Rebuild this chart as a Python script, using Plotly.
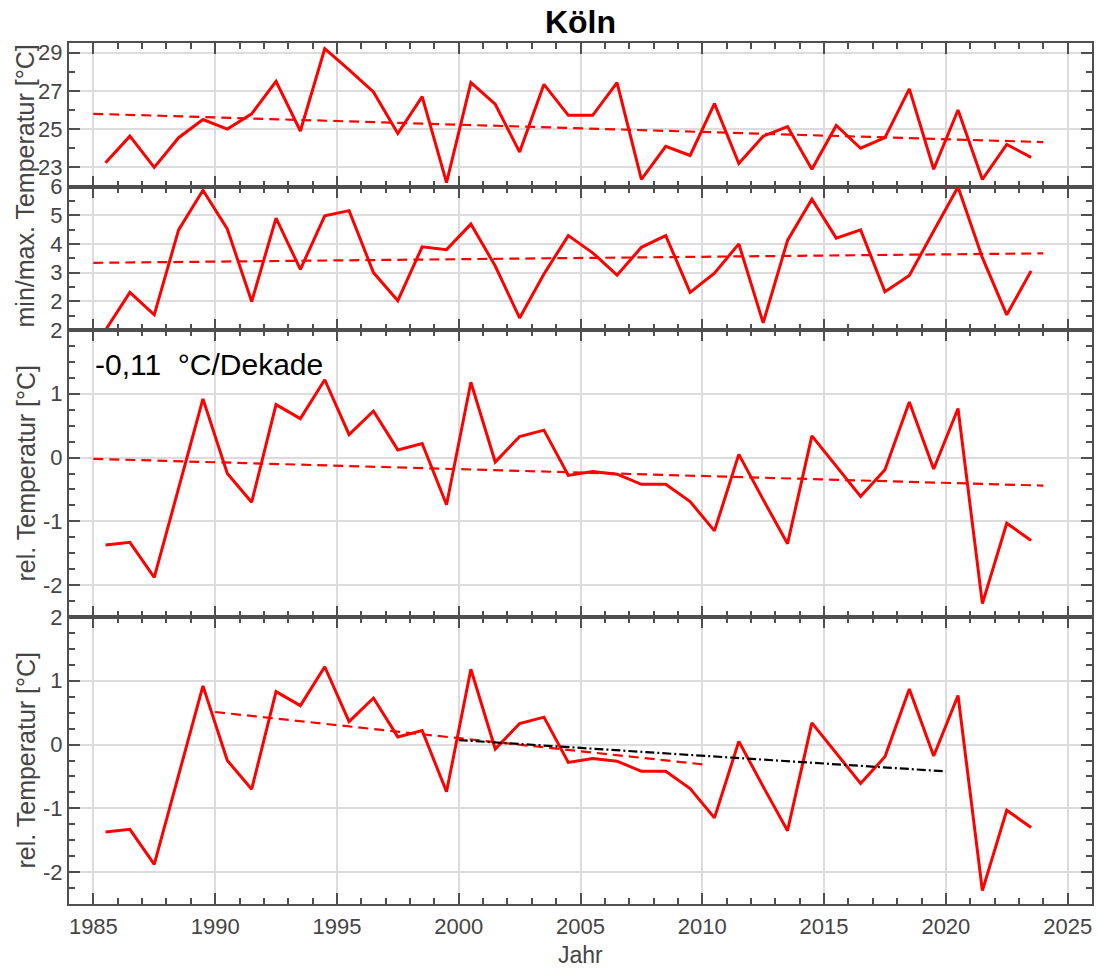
import plotly.graph_objects as go
from plotly.subplots import make_subplots

# Annual values (plotted at mid-year)
years = [1985, 1986, 1987, 1988, 1989, 1990, 1991, 1992, 1993, 1994,
         1995, 1996, 1997, 1998, 1999, 2000, 2001, 2002, 2003, 2004,
         2005, 2006, 2007, 2008, 2009, 2010, 2011, 2012, 2013, 2014,
         2015, 2016, 2017, 2018, 2019, 2020, 2021, 2022, 2023]

# maximum temperature [°C]
t_max = [23.24, 24.63, 23.00, 24.55, 25.50, 25.00, 25.80, 27.50, 24.90, 29.20,
         28.10, 26.94, 24.77, 26.70, 22.20, 27.43, 26.30, 23.80, 27.34, 25.72,
         25.72, 27.43, 22.37, 24.10, 23.62, 26.33, 23.20, 24.63, 25.13, 22.90,
         25.19, 24.00, 24.55, 27.10, 22.90, 26.00, 22.37, 24.20, 23.52]

# minimum temperature [°C]
t_min = [1.00, 2.31, 1.53, 4.49, 5.87, 4.52, 1.99, 4.90, 3.11, 4.98,
         5.16, 3.00, 2.02, 3.90, 3.80, 4.69, 3.23, 1.42, 2.95, 4.29,
         3.69, 2.91, 3.88, 4.29, 2.31, 2.98, 4.00, 1.25, 4.12, 5.56,
         4.20, 4.49, 2.33, 2.90, 4.45, 5.98, 3.52, 1.53, 3.06]

# relative temperature [°C]
t_rel = [-1.37, -1.33, -1.88, -0.48, 0.92, -0.25, -0.70, 0.83, 0.61, 1.22,
         0.36, 0.73, 0.12, 0.22, -0.74, 1.18, -0.07, 0.33, 0.43, -0.28,
         -0.22, -0.26, -0.42, -0.42, -0.69, -1.15, 0.05, -0.66, -1.35, 0.34,
         -0.14, -0.61, -0.19, 0.87, -0.18, 0.77, -2.29, -1.03, -1.30]

# linear trends (start/end)
trend_max_x, trend_max_y = [1985, 2024], [25.80, 24.32]
trend_min_x, trend_min_y = [1985, 2024], [3.34, 3.67]
trend_rel_x, trend_rel_y = [1985, 2024], [-0.02, -0.44]
trend_9010_x, trend_9010_y = [1990, 2010], [0.51, -0.31]
trend_0020_x, trend_0020_y = [2000, 2020], [0.07, -0.42]

trend_label = "-0,11&nbsp;&nbsp;°C/Dekade"

rel_ticks = [-2, -1, 0, 1, 2]
rel_ticktext = ["-2", "-1", "0", "1", "2"]

x_mid = [y + 0.5 for y in years]

RED = "#ff0000"
AX = "#4f4f4f"
GRID = "#dcdcdc"
TXT = "#454545"
FONT = "Liberation Sans, Arial, sans-serif"

fig = make_subplots(rows=4, cols=1, shared_xaxes=True, vertical_spacing=0,
                    row_heights=[1 / 6, 1 / 6, 1 / 3, 1 / 3])

data_line = dict(color=RED, width=3)
dash_line = dict(color=RED, width=2.2, dash="10px,6px")

fig.add_trace(go.Scatter(x=x_mid, y=t_max, mode="lines", line=data_line), row=1, col=1)
fig.add_trace(go.Scatter(x=trend_max_x, y=trend_max_y, mode="lines", line=dash_line), row=1, col=1)

fig.add_trace(go.Scatter(x=x_mid, y=t_min, mode="lines", line=data_line), row=2, col=1)
fig.add_trace(go.Scatter(x=trend_min_x, y=trend_min_y, mode="lines", line=dash_line), row=2, col=1)

fig.add_trace(go.Scatter(x=x_mid, y=t_rel, mode="lines", line=data_line), row=3, col=1)
fig.add_trace(go.Scatter(x=trend_rel_x, y=trend_rel_y, mode="lines", line=dash_line), row=3, col=1)

fig.add_trace(go.Scatter(x=x_mid, y=t_rel, mode="lines", line=data_line), row=4, col=1)
fig.add_trace(go.Scatter(x=trend_9010_x, y=trend_9010_y, mode="lines", line=dash_line), row=4, col=1)
fig.add_trace(go.Scatter(x=trend_0020_x, y=trend_0020_y, mode="lines",
                         line=dict(color="#000000", width=2.2, dash="9px,3px,2px,3px")),
              row=4, col=1)

tick_font = dict(family=FONT, size=22, color=TXT)

axis_common = dict(
    showline=True, linecolor=AX, linewidth=2, mirror="allticks",
    ticks="inside", ticklen=11, tickwidth=2, tickcolor=AX,
    showgrid=True, gridcolor=GRID, gridwidth=1.5, zeroline=False,
    tickfont=tick_font,
)

for r in range(1, 5):
    fig.update_xaxes(range=[1984, 2026], tick0=1985, dtick=5,
                     minor=dict(dtick=1, tick0=1985, ticks="inside", ticklen=6,
                                tickwidth=2, tickcolor=AX, showgrid=False),
                     ticklabelstandoff=2,
                     **axis_common, row=r, col=1)

fig.update_yaxes(range=[22, 29.5], tickvals=[23, 25, 27, 29],
                 minor=dict(dtick=1, tick0=22, ticks="inside", ticklen=6,
                            tickwidth=2, tickcolor=AX, showgrid=False),
                 **axis_common, row=1, col=1)
fig.update_yaxes(range=[1, 6], tickvals=[2, 3, 4, 5, 6],
                 minor=dict(dtick=0.5, tick0=1, ticks="inside", ticklen=6,
                            tickwidth=2, tickcolor=AX, showgrid=False),
                 **axis_common, row=2, col=1)
for r in (3, 4):
    fig.update_yaxes(range=[-2.5, 2], tickvals=rel_ticks, ticktext=rel_ticktext,
                     minor=dict(dtick=0.25, tick0=0, ticks="inside", ticklen=6,
                                tickwidth=2, tickcolor=AX, showgrid=False),
                     **axis_common, row=r, col=1)

label_font = dict(family=FONT, size=25, color=TXT)
fig.add_annotation(text="min/max. Temperatur [°C]", textangle=-90, font=label_font,
                   xref="paper", yref="paper", x=0, xshift=-44, y=5 / 6,
                   xanchor="center", yanchor="middle", showarrow=False)
fig.add_annotation(text="rel. Temperatur [°C]", textangle=-90, font=label_font,
                   xref="paper", yref="paper", x=0, xshift=-44, y=0.5,
                   xanchor="center", yanchor="middle", showarrow=False)
fig.add_annotation(text="rel. Temperatur [°C]", textangle=-90, font=label_font,
                   xref="paper", yref="paper", x=0, xshift=-44, y=1 / 6,
                   xanchor="center", yanchor="middle", showarrow=False)
fig.add_annotation(text="Jahr", font=dict(family=FONT, size=23, color=TXT),
                   xref="paper", yref="paper", x=0.5, y=0, yshift=-51,
                   xanchor="center", yanchor="middle", showarrow=False)
fig.add_annotation(text=trend_label, font=dict(family=FONT, size=30, color="#000000"),
                   xref="x3", yref="y3", x=1985, y=1.46,
                   xanchor="left", yanchor="middle", showarrow=False)

fig.update_layout(
    width=1097, height=969,
    margin=dict(l=69, r=3, t=43, b=65),
    paper_bgcolor="white", plot_bgcolor="white",
    showlegend=False,
    title=dict(text="<b>Köln</b>", x=0.5, xref="paper", y=1 - 22 / 969,
               yanchor="middle", xanchor="center",
               font=dict(family=FONT, size=32, color="#000000")),
)

fig.write_html("out.html")
